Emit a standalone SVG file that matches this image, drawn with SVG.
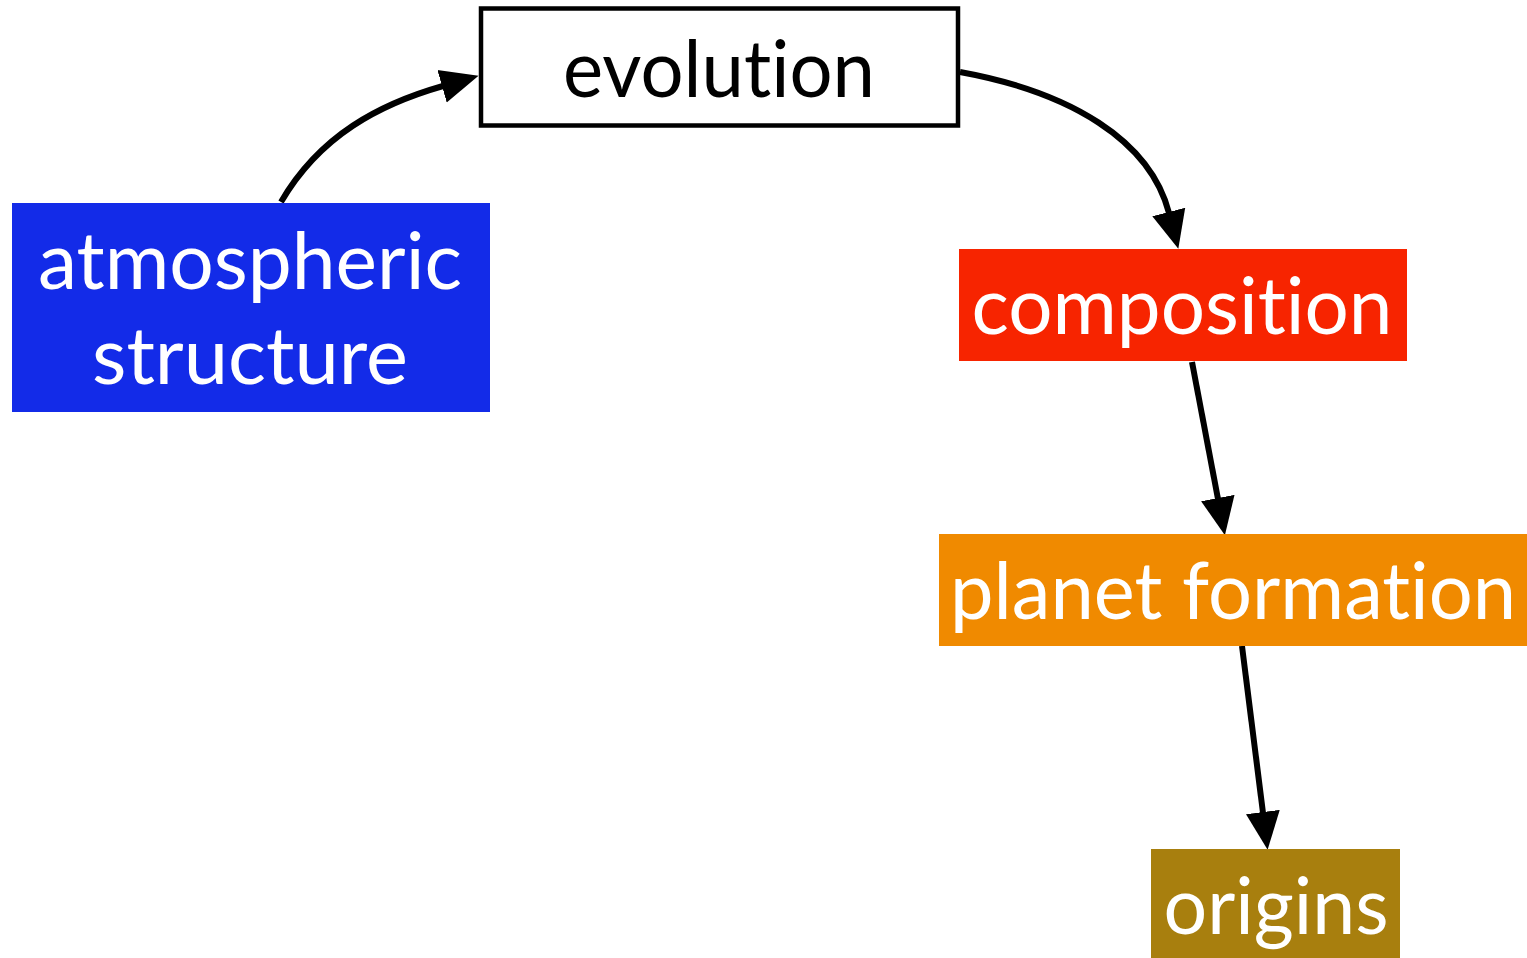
<svg xmlns="http://www.w3.org/2000/svg" width="1527" height="958" viewBox="0 0 1527 958">
  <style>
    .lbl { font-family: "Lato", "Open Sans", "Liberation Sans", sans-serif; font-size: 80px; text-anchor: middle; font-variant-ligatures: none; font-feature-settings: "liga" 0; }
    .light { fill: #ffffff; }
    .dark { fill: #000000; }
    .edge { fill: none; stroke: #000000; stroke-width: 6; }
  </style>
  <defs>
    <marker id="arrow" markerUnits="userSpaceOnUse" markerWidth="40" markerHeight="36" viewBox="0 -18 40 36" refX="1" refY="0" orient="auto">
      <path d="M0,-17 L38,0 L0,17 z" fill="#000000"/>
    </marker>
  </defs>

  <g id="connectors">
    <path class="edge" d="M281,202 C320,135 380,104 443,86" marker-end="url(#arrow)"/>
    <path class="edge" d="M960,72 C1070,92 1150,140 1169,213" marker-end="url(#arrow)"/>
    <path class="edge" d="M1192,362 L1218,499" marker-end="url(#arrow)"/>
    <path class="edge" d="M1242,646 L1263,813" marker-end="url(#arrow)"/>
  </g>

  <g id="node-evolution">
    <rect x="481" y="8.5" width="477" height="117" fill="#ffffff" stroke="#000000" stroke-width="4.5"/>
    <text class="lbl dark" x="719" y="97" textLength="312" lengthAdjust="spacingAndGlyphs">evolution</text>
  </g>

  <g id="node-atmospheric-structure">
    <rect x="12" y="203" width="478" height="209" fill="#132BE8"/>
    <text class="lbl light" x="250" y="289" textLength="424" lengthAdjust="spacingAndGlyphs">atmospheric</text>
    <text class="lbl light" x="250" y="384" textLength="316" lengthAdjust="spacingAndGlyphs">structure</text>
  </g>

  <g id="node-composition">
    <rect x="959" y="249" width="448" height="112" fill="#F72400"/>
    <text class="lbl light" x="1182" y="334" textLength="421" lengthAdjust="spacingAndGlyphs">composition</text>
  </g>

  <g id="node-planet-formation">
    <rect x="939" y="534" width="588" height="112" fill="#F08A00"/>
    <text class="lbl light" x="1233" y="619" textLength="566" lengthAdjust="spacingAndGlyphs">planet formation</text>
  </g>

  <g id="node-origins">
    <rect x="1151" y="849" width="249" height="109" fill="#A87F0E"/>
    <text class="lbl light" x="1276" y="934" textLength="225" lengthAdjust="spacingAndGlyphs">origins</text>
  </g>
</svg>
